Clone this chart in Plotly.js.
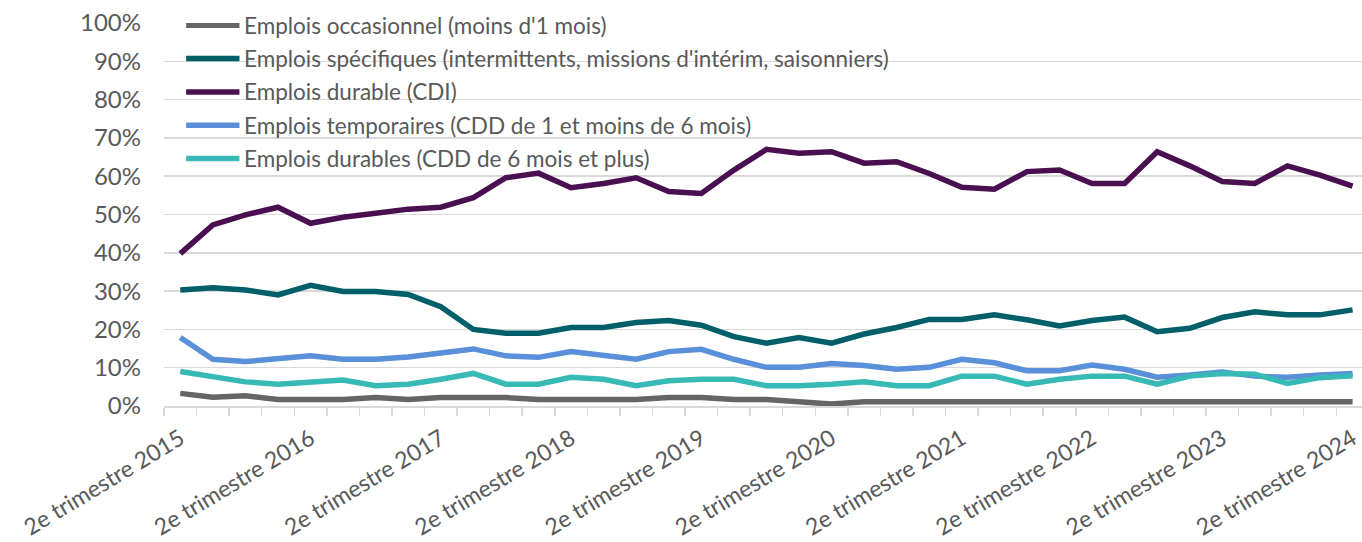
<!DOCTYPE html>
<html>
<head>
<meta charset="utf-8">
<script src="https://cdn.plot.ly/plotly-3.0.1.min.js"></script>
<style>
html,body{margin:0;padding:0;background:#fff;}
#chart{width:1362px;height:542px;}
</style>
</head>
<body>
<div id="chart"></div>
<script>
// Quarters: 2e trimestre 2015 ... 2e trimestre 2024 (37 quarters)
const quarters = ["T2 2015","T3 2015","T4 2015","T1 2016","T2 2016","T3 2016","T4 2016","T1 2017","T2 2017","T3 2017","T4 2017","T1 2018","T2 2018","T3 2018","T4 2018","T1 2019","T2 2019","T3 2019","T4 2019","T1 2020","T2 2020","T3 2020","T4 2020","T1 2021","T2 2021","T3 2021","T4 2021","T1 2022","T2 2022","T3 2022","T4 2022","T1 2023","T2 2023","T3 2023","T4 2023","T1 2024","T2 2024"];
const tickLabels = ["2e trimestre 2015","2e trimestre 2016","2e trimestre 2017","2e trimestre 2018","2e trimestre 2019","2e trimestre 2020","2e trimestre 2021","2e trimestre 2022","2e trimestre 2023","2e trimestre 2024"];
const seriesNames = ["Emplois occasionnel (moins d'1 mois)","Emplois spécifiques (intermittents, missions d'intérim, saisonniers)","Emplois durable (CDI)","Emplois temporaires (CDD de 1 et moins de 6 mois)","Emplois durables (CDD de 6 mois et plus)"];
const occasionnel = [3.3,2.3,2.7,1.7,1.7,1.7,2.2,1.7,2.2,2.2,2.2,1.7,1.7,1.7,1.7,2.2,2.2,1.7,1.7,1.1,0.5,1.1,1.1,1.1,1.1,1.1,1.1,1.1,1.1,1.1,1.1,1.1,1.1,1.1,1.1,1.1,1.1];
const specifiques = [30.3,30.9,30.3,29.0,31.5,29.9,29.9,29.1,25.9,20.0,19.0,19.0,20.5,20.5,21.8,22.3,21.1,18.1,16.4,17.9,16.4,18.8,20.5,22.6,22.6,23.8,22.5,20.9,22.3,23.2,19.4,20.3,23.1,24.6,23.8,23.8,25.1];
const cdi = [39.8,47.3,49.9,51.9,47.7,49.3,50.3,51.4,51.9,54.4,59.6,60.8,57.0,58.1,59.6,56.0,55.5,61.6,67.0,66.0,66.4,63.4,63.8,60.7,57.1,56.6,61.2,61.6,58.1,58.1,66.4,62.7,58.6,58.1,62.7,60.3,57.4];
const temporaires = [17.9,12.2,11.6,12.2,13.1,12.2,12.2,12.8,13.9,14.9,13.1,12.7,14.2,13.3,12.2,14.2,14.8,12.2,10.1,10.1,11.1,10.6,9.6,10.1,12.2,11.3,9.2,9.2,10.7,9.6,7.5,8.1,8.9,7.8,7.5,8.1,8.5];
const cddLongs = [9.0,7.8,6.3,5.7,6.3,6.8,5.3,5.7,7.0,8.5,5.7,5.7,7.5,7.0,5.3,6.6,7.0,7.0,5.3,5.3,5.7,6.3,5.3,5.3,7.8,7.8,5.7,7.0,7.8,7.8,5.7,7.8,8.5,8.3,5.9,7.4,7.9];
const seriesValues = [occasionnel, specifiques, cdi, temporaires, cddLongs];
const seriesColors = ["#656565","#005F69","#4A0F51","#5A8FDA","#37B9B6"];

const FONT = "Lato, 'Open Sans', sans-serif";
const xIdx = quarters.map((q, i) => i);
const traces = seriesValues.map((vals, k) => ({
  type: "scatter", mode: "lines", x: xIdx, y: vals, name: seriesNames[k],
  line: {color: seriesColors[k], width: 5.5, shape: "linear"},
  showlegend: false, hoverinfo: "x+y+name"
}));

const labelTickVals = tickLabels.map((t, i) => i * 4);
const boundaryVals = quarters.map((q, i) => i - 0.5);

// manual legend (long swatches like the original)
const legendShapes = [], legendAnn = [];
const legTop = 99.4, legStep = 8.7;
seriesNames.forEach((n, k) => {
  const yv = legTop - k * legStep;
  legendShapes.push({type: "line", xref: "paper", yref: "y", x0: 0.0185, x1: 0.063, y0: yv, y1: yv,
    line: {color: seriesColors[k], width: 5.5}, layer: "above"});
  legendAnn.push({xref: "paper", yref: "y", x: 0.0655, y: yv, text: n, showarrow: false,
    xanchor: "left", yanchor: "middle", font: {family: FONT, size: 22.5, color: "#595959"}});
});

const layout = {
  width: 1362, height: 542,
  margin: {l: 164, r: 0, t: 23, b: 136, pad: 0},
  paper_bgcolor: "#ffffff", plot_bgcolor: "#ffffff",
  font: {family: FONT, color: "#595959"},
  xaxis: {
    range: [-0.5, 36.29], tickmode: "array", tickvals: labelTickVals, ticktext: tickLabels,
    tickangle: -31, ticks: "", showgrid: false, zeroline: false,
    showline: true, linecolor: "#D9D9D9", linewidth: 1.5,
    tickfont: {family: FONT, size: 23, color: "#595959"}, ticklabelstandoff: 9,
    minor: {tickmode: "array", tickvals: boundaryVals, ticks: "outside", ticklen: 8, tickwidth: 1.5, tickcolor: "#D9D9D9", showgrid: false}
  },
  yaxis: {
    range: [0, 100], tickmode: "linear", tick0: 0, dtick: 10, ticksuffix: "%",
    showgrid: true, gridcolor: "#D9D9D9", gridwidth: 1.5, zeroline: false,
    showline: false, ticks: "", ticklabelstandoff: 22,
    tickfont: {family: FONT, size: 24, color: "#595959"}
  },
  shapes: legendShapes,
  annotations: legendAnn,
  showlegend: false
};

Plotly.newPlot("chart", traces, layout, {displayModeBar: false, staticPlot: true});
</script>
</body>
</html>
